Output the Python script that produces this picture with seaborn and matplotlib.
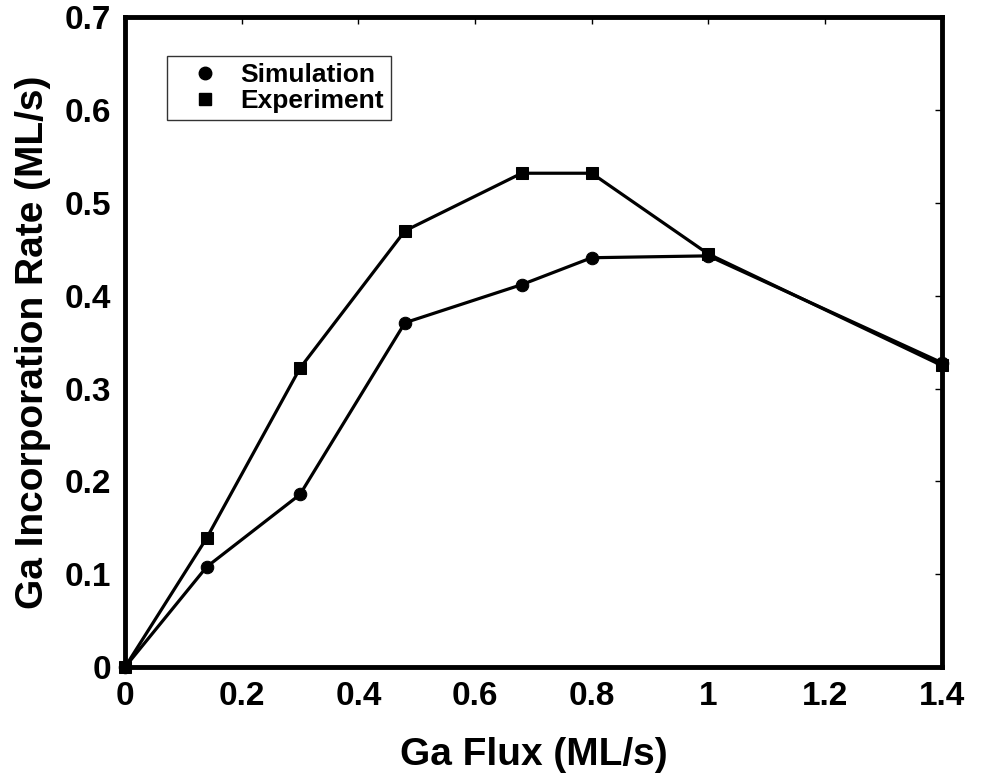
import matplotlib
matplotlib.use("Agg")
import matplotlib.pyplot as plt
from matplotlib.lines import Line2D
import seaborn as sns
import pandas as pd

ga_flux = [0.0, 0.14, 0.30, 0.48, 0.68, 0.80, 1.0, 1.4]
simulation = [0.0, 0.108, 0.186, 0.371, 0.412, 0.441, 0.443, 0.328]
experiment = [0.0, 0.139, 0.322, 0.470, 0.532, 0.532, 0.445, 0.325]
series_names = ["Simulation", "Experiment"]
x_ticks = [0, 0.2, 0.4, 0.6, 0.8, 1.0, 1.2, 1.4]
x_tick_labels = ["0", "0.2", "0.4", "0.6", "0.8", "1", "1.2", "1.4"]
y_ticks = [0, 0.1, 0.2, 0.3, 0.4, 0.5, 0.6, 0.7]
y_tick_labels = ["0", "0.1", "0.2", "0.3", "0.4", "0.5", "0.6", "0.7"]

df = pd.DataFrame({
    "flux": ga_flux + ga_flux,
    "rate": simulation + experiment,
    "series": [series_names[0]] * len(ga_flux) + [series_names[1]] * len(ga_flux),
})

sns.set_theme(style="white")
plt.rcParams["font.family"] = ["Liberation Sans", "DejaVu Sans"]
plt.rcParams["font.weight"] = "bold"
plt.rcParams["text.color"] = "black"
plt.rcParams["axes.labelcolor"] = "black"
plt.rcParams["xtick.color"] = "black"
plt.rcParams["ytick.color"] = "black"

fig = plt.figure(figsize=(9.84, 7.84), dpi=100)
ax = fig.add_axes([0.127, 0.149, 0.830, 0.829])

markers = {"Simulation": "o", "Experiment": "s"}
sns.lineplot(data=df, x="flux", y="rate", hue="series", style="series",
             markers=markers, dashes=False, palette=["black", "black"],
             linewidth=2.3, markersize=9, markeredgecolor="black",
             ax=ax, legend=False, sort=False, clip_on=False, zorder=3)

ax.set_xlim(0, 1.4)
ax.set_ylim(0, 0.7)
ax.set_xticks(x_ticks)
ax.set_xticklabels(x_tick_labels)
ax.set_yticks(y_ticks)
ax.set_yticklabels(y_tick_labels)
ax.tick_params(direction="in", length=5, width=1, top=True, right=True,
               labelsize=24, colors="black", labelcolor="black", pad=10)
for lab in ax.get_xticklabels() + ax.get_yticklabels():
    lab.set_fontweight("bold")
for sp in ax.spines.values():
    sp.set_linewidth(3.5)
    sp.set_color("black")

ax.set_xlabel("Ga Flux (ML/s)", fontsize=28, fontweight="bold", labelpad=18, color="black")
ax.set_ylabel("Ga Incorporation Rate (ML/s)", fontsize=28, fontweight="bold", labelpad=10, color="black")

handles = [Line2D([], [], color="black", marker=markers[n], linestyle="", markersize=9)
           for n in series_names]
leg = ax.legend(handles, series_names, loc="upper left", bbox_to_anchor=(0.051, 0.94),
                frameon=True, fancybox=False, shadow=False, fontsize=19,
                handlelength=2.4, handletextpad=0.15, labelspacing=0.1,
                borderpad=0.25, borderaxespad=0)
leg.get_frame().set_edgecolor("black")
leg.get_frame().set_linewidth(1.0)
for t in leg.get_texts():
    t.set_fontweight("bold")
    t.set_color("black")

fig.savefig("out.png", dpi=100)
